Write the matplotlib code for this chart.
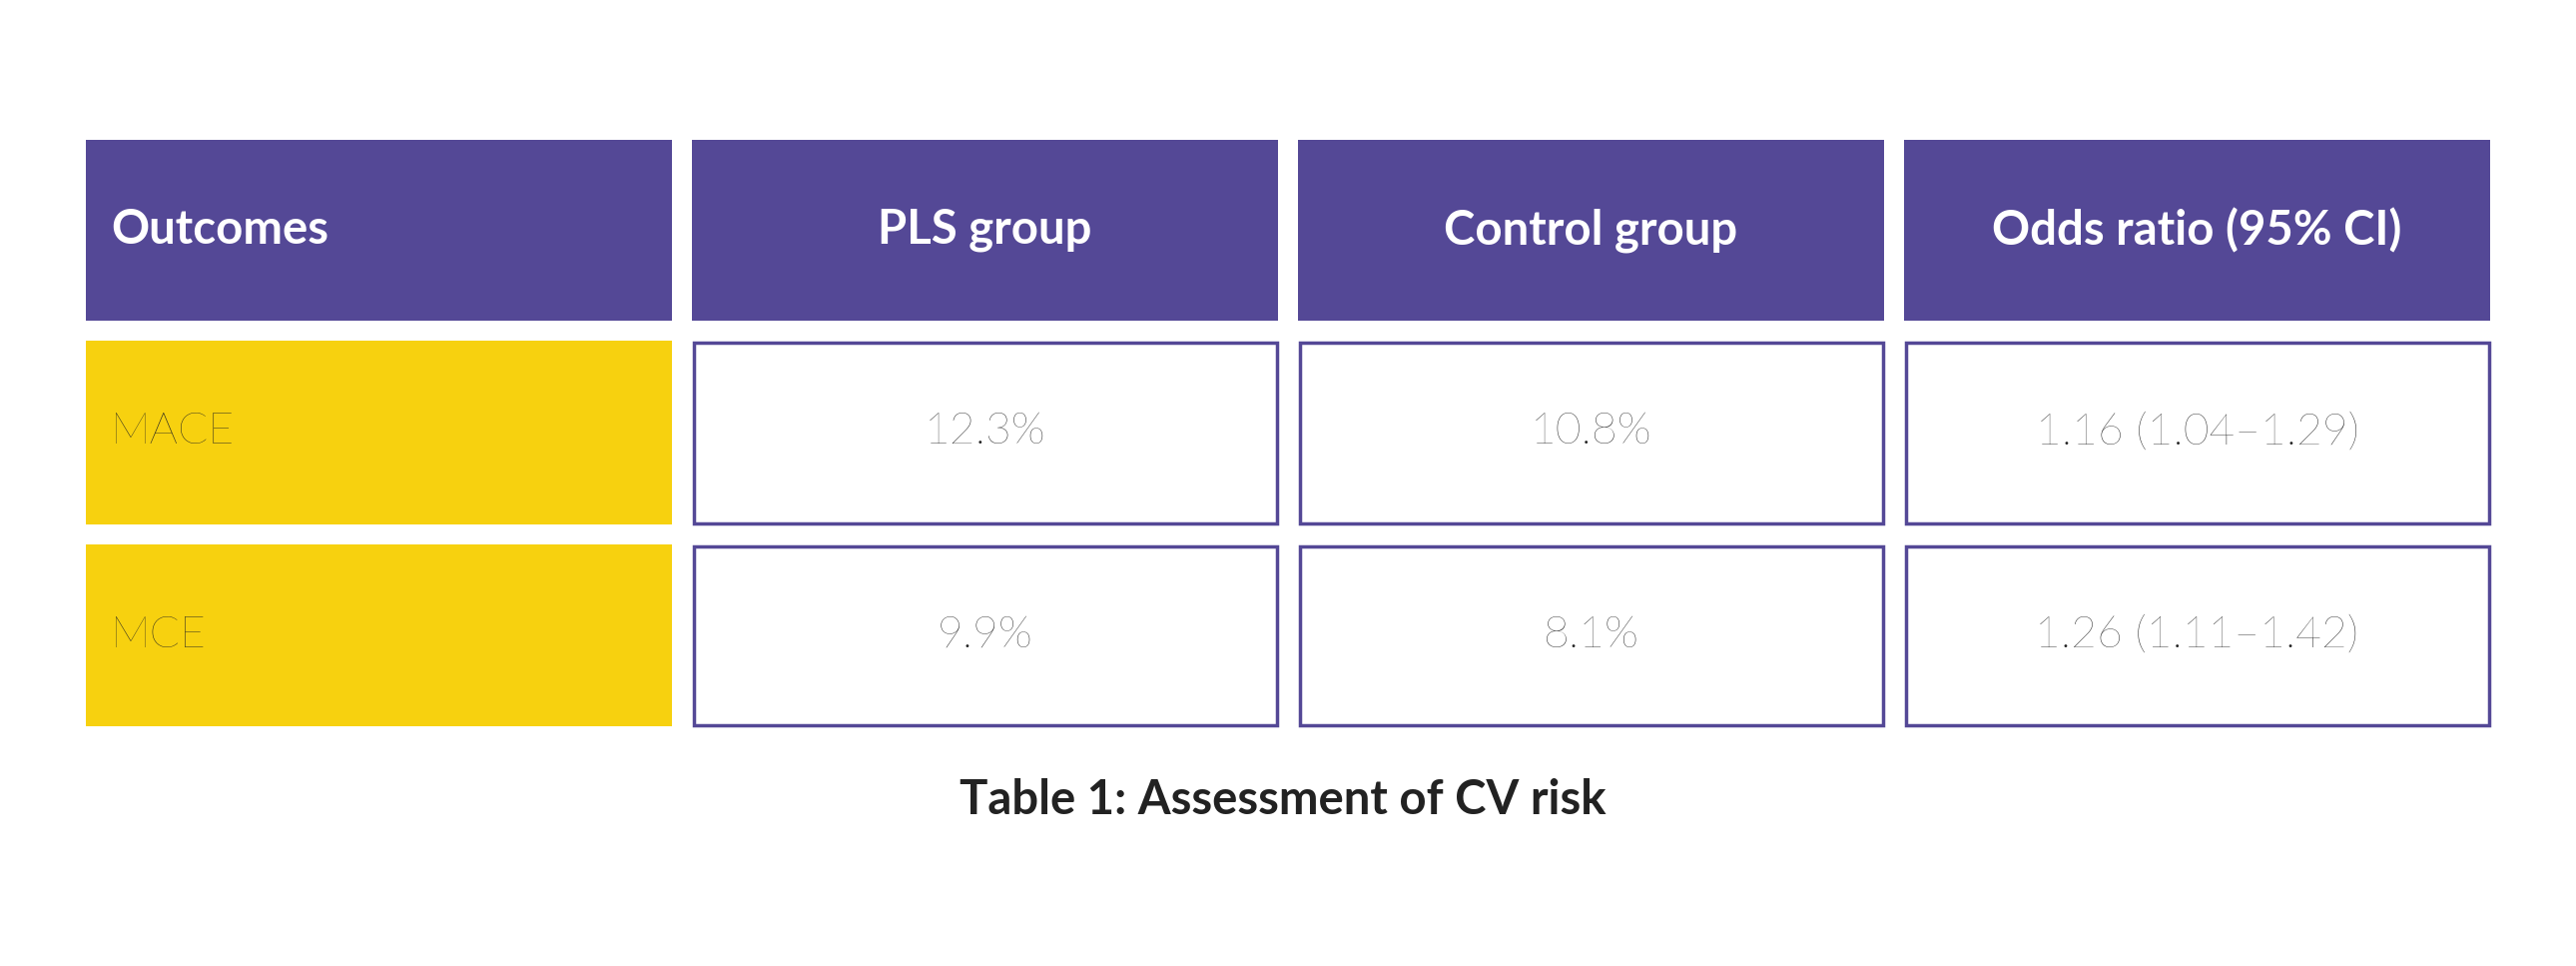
import matplotlib
matplotlib.use("Agg")
import matplotlib.pyplot as plt
from matplotlib.patches import Rectangle

headers = ["Outcomes", "PLS group", "Control group", "Odds ratio (95% CI)"]
outcomes = ["MACE", "MCE"]
pls_group = ["12.3%", "9.9%"]
control_group = ["10.8%", "8.1%"]
odds_ratio = ["1.16 (1.04\u20131.29)", "1.26 (1.11\u20131.42)"]
caption = "Table 1: Assessment of CV risk"

PURPLE = "#544896"
YELLOW = "#F7D10F"

W, H = 2580, 967
fig = plt.figure(figsize=(W/100, H/100), dpi=100)
ax = fig.add_axes([0, 0, 1, 1])
ax.set_xlim(0, W); ax.set_ylim(H, 0); ax.axis("off")

cols = [(86, 673), (693, 1280), (1300, 1887), (1907, 2494)]
rows = [(140, 321), (341, 525), (545, 727)]
fam = ["Lato", "DejaVu Sans"]

# header
y0, y1 = rows[0]
for i, (x0, x1) in enumerate(cols):
    ax.add_patch(Rectangle((x0, y0), x1-x0, y1-y0, facecolor=PURPLE, edgecolor="none"))
    if i == 0:
        ax.text(x0+25, (y0+y1)/2, headers[i], color="white", fontsize=34, fontweight="bold",
                family=fam, ha="left", va="center")
    else:
        ax.text((x0+x1)/2, (y0+y1)/2, headers[i], color="white", fontsize=34, fontweight="bold",
                family=fam, ha="center", va="center")

for r in range(2):
    y0, y1 = rows[r+1]
    x0, x1 = cols[0]
    ax.add_patch(Rectangle((x0, y0), x1-x0, y1-y0, facecolor=YELLOW, edgecolor="none"))
    ax.text(x0+25, (y0+y1)/2, outcomes[r], color="#222222", fontsize=32, fontweight="light",
            family=fam, ha="left", va="center")
    for j, vals in enumerate([pls_group, control_group, odds_ratio]):
        x0, x1 = cols[j+1]
        ax.add_patch(Rectangle((x0+1.5, y0+1.5), x1-x0-3, y1-y0-3, facecolor="white",
                               edgecolor=PURPLE, linewidth=2.5))
        ax.text((x0+x1)/2, (y0+y1)/2, vals[r], color="#222222", fontsize=32, fontweight="light",
                family=fam, ha="center", va="center")

ax.text(W/2 - 5, 801, caption, color="#222222", fontsize=34, fontweight="bold",
        family=fam, ha="center", va="center")

fig.savefig("out.png", dpi=100, facecolor="white")
